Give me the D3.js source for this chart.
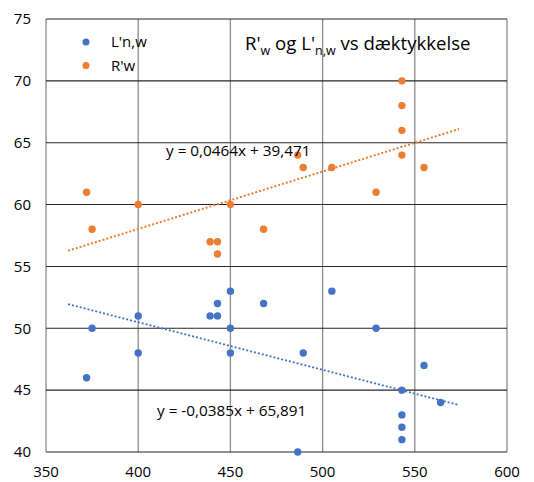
<!DOCTYPE html>
<html><head><meta charset="utf-8">
<script src="https://cdn.jsdelivr.net/npm/d3@7"></script>
<style>body{margin:0;background:#fff;} svg{display:block;font-family:"Open Sans","Liberation Sans",sans-serif;}</style>
</head><body>
<svg id="c" width="534" height="482"></svg>
<script>
const lnwX = [372,375,400,400,439,443,443,450,450,450,468,505,486.5,489.5,529,543,543,543,543,555,564];
const lnwY = [46,50,51,48,51,51,52,53,50,48,52,53,40,48,50,45,43,42,41,47,44];
const rwX = [372,375,400,439,443,443,450,468,486.5,489.5,505,529,543,543,543,543,555];
const rwY = [61,58,60,57,57,56,60,58,64,63,63,61,70,68,66,64,63];
const xTicks = [350,400,450,500,550,600];
const yTicks = [40,45,50,55,60,65,70,75];
const trendR = {slope:0.0464, intercept:39.471, x0:362, x1:574, label:"y = 0,0464x + 39,471"};
const trendL = {slope:-0.0385, intercept:65.891, x0:362, x1:574, label:"y = -0,0385x + 65,891"};
const blue = "#4472C4", orange = "#ED7D31";

const svg = d3.select("#c");
const x = d3.scaleLinear().domain([350,600]).range([46,507]);
const y = d3.scaleLinear().domain([40,75]).range([452,19]);

// vertical gridlines
svg.append("g").selectAll("line").data(xTicks).join("line")
  .attr("x1",d=>x(d)).attr("x2",d=>x(d)).attr("y1",y(75)).attr("y2",y(40))
  .attr("stroke","#8c8c8c").attr("stroke-width",1.3);
// horizontal gridlines
svg.append("g").selectAll("line").data(yTicks).join("line")
  .attr("x1",x(350)).attr("x2",x(600)).attr("y1",d=>y(d)).attr("y2",d=>y(d))
  .attr("stroke","#262626").attr("stroke-width",1.1);

// axis labels
svg.append("g").selectAll("text").data(yTicks).join("text")
  .attr("x",31).attr("y",d=>y(d)).attr("dy","0.35em").attr("text-anchor","end")
  .attr("font-size",15).attr("fill","#000").text(d=>d);
svg.append("g").selectAll("text").data(xTicks).join("text")
  .attr("x",d=>x(d)).attr("y",472).attr("dy","0.35em").attr("text-anchor","middle")
  .attr("font-size",15).attr("fill","#000").text(d=>d);

// trendlines
function trend(t,col){
  svg.append("line")
    .attr("x1",x(t.x0)).attr("y1",y(t.slope*t.x0+t.intercept))
    .attr("x2",x(t.x1)).attr("y2",y(t.slope*t.x1+t.intercept))
    .attr("stroke",col).attr("stroke-width",2).attr("stroke-dasharray","2,2");
}
trend(trendR,orange);
trend(trendL,blue);

// points
svg.append("g").selectAll("circle").data(lnwX.map((v,i)=>[v,lnwY[i]])).join("circle")
  .attr("cx",d=>x(d[0])).attr("cy",d=>y(d[1])).attr("r",3.7).attr("fill",blue);
svg.append("g").selectAll("circle").data(rwX.map((v,i)=>[v,rwY[i]])).join("circle")
  .attr("cx",d=>x(d[0])).attr("cy",d=>y(d[1])).attr("r",3.7).attr("fill",orange);

// trend labels
svg.append("text").attr("x",166).attr("y",151).attr("dy","0.35em").attr("font-size",15.3).attr("fill","#000").text(trendR.label);
svg.append("text").attr("x",157).attr("y",411).attr("dy","0.35em").attr("font-size",15.3).attr("fill","#000").text(trendL.label);

// legend
const leg = [{name:"L'n,w",col:blue},{name:"R'w",col:orange}];
leg.forEach((l,i)=>{
  svg.append("circle").attr("cx",86).attr("cy",42+i*23.5).attr("r",3.5).attr("fill",l.col);
  svg.append("text").attr("x",111).attr("y",42+i*23.5).attr("dy","0.35em").attr("font-size",15).attr("fill","#000").text(l.name);
});

// title
const title = svg.append("text").attr("x",245).attr("y",50).attr("font-size",18.6).attr("fill","#000");
title.append("tspan").text("R'");
title.append("tspan").attr("font-size",12.5).attr("dy",5).text("w");
title.append("tspan").attr("dy",-5).text(" og L'");
title.append("tspan").attr("font-size",12.5).attr("dy",5).text("n,w");
title.append("tspan").attr("dy",-5).text(" vs dæktykkelse");
</script>
</body></html>
